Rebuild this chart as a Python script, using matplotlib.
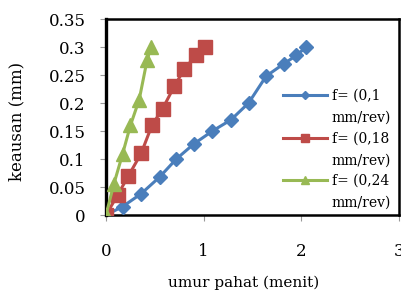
import matplotlib
matplotlib.use("Agg")
import matplotlib.pyplot as plt

plt.rcParams['font.family'] = ['DejaVu Serif', 'Liberation Serif']

blue_x = [0, 0.17, 0.36, 0.55, 0.72, 0.90, 1.09, 1.28, 1.46, 1.64, 1.82, 1.95, 2.05]
blue_y = [0, 0.015, 0.038, 0.068, 0.10, 0.127, 0.15, 0.17, 0.20, 0.248, 0.27, 0.285, 0.30]
red_x = [0, 0.12, 0.23, 0.36, 0.47, 0.58, 0.70, 0.80, 0.92, 1.01]
red_y = [0, 0.036, 0.07, 0.11, 0.16, 0.19, 0.23, 0.26, 0.285, 0.30]
green_x = [0, 0.08, 0.17, 0.25, 0.34, 0.42, 0.46]
green_y = [0, 0.055, 0.109, 0.16, 0.206, 0.276, 0.30]
labels_top = ["f= (0,1", "f= (0,18", "f= (0,24"]
labels_bottom = ["mm/rev)", "mm/rev)", "mm/rev)"]
x_ticks = [0, 1, 2, 3]
y_ticks = [0, 0.05, 0.1, 0.15, 0.2, 0.25, 0.3, 0.35]
y_ticklabels = ["0", "0.05", "0.1", "0.15", "0.2", "0.25", "0.3", "0.35"]

fig = plt.figure(figsize=(4.01, 2.98), dpi=100)
ax = fig.add_axes([106/401, 1-215/298, 293/401, 196/298])

ax.plot(blue_x, blue_y, color='#4a7ebb', lw=2.2, marker='D', ms=7,
        mec='#4a7ebb', label=labels_top[0], zorder=3)
ax.plot(red_x, red_y, color='#be4b48', lw=2.2, marker='s', ms=9.5,
        mec='#be4b48', label=labels_top[1], zorder=4)
ax.plot(green_x, green_y, color='#98b954', lw=2.2, marker='^', ms=10,
        mec='#98b954', label=labels_top[2], zorder=5)

ax.set_xlim(0, 3)
ax.set_ylim(0, 0.35)
ax.set_xticks(x_ticks)
ax.set_xticklabels([str(t) for t in x_ticks])
ax.set_yticks(y_ticks)
ax.set_yticklabels(y_ticklabels)
ax.tick_params(axis='both', labelsize=12, color='#999999', length=4.5, width=0.8)
ax.tick_params(axis='x', pad=16)
ax.tick_params(axis='y', pad=10)

for s in ax.spines.values():
    s.set_color('black')
    s.set_linewidth(1.8)
ax.spines['left'].set_linewidth(2.4)

fig.text(244/401, 1-283/298, "umur pahat (menit)", ha='center', va='center', fontsize=11)
fig.text(17/401, 1-121/298, "keausan (mm)", ha='center', va='center', rotation=90, fontsize=12)

leg = ax.legend(loc='upper left', bbox_to_anchor=((283-106)/293, 1-(89-19)/196),
                frameon=False, fontsize=10, handlelength=3.2, markerscale=0.6,
                labelspacing=2.05, handletextpad=0.3, borderaxespad=0, borderpad=0)

fig.canvas.draw()
for t, extra in zip(leg.get_texts(), labels_bottom):
    bb = t.get_window_extent()
    fig.text(bb.x0, bb.y0 - 22 + (bb.y1 - bb.y0) / 2, extra, transform=None,
             ha='left', va='center', fontsize=10)

fig.savefig("out.png", dpi=100)
